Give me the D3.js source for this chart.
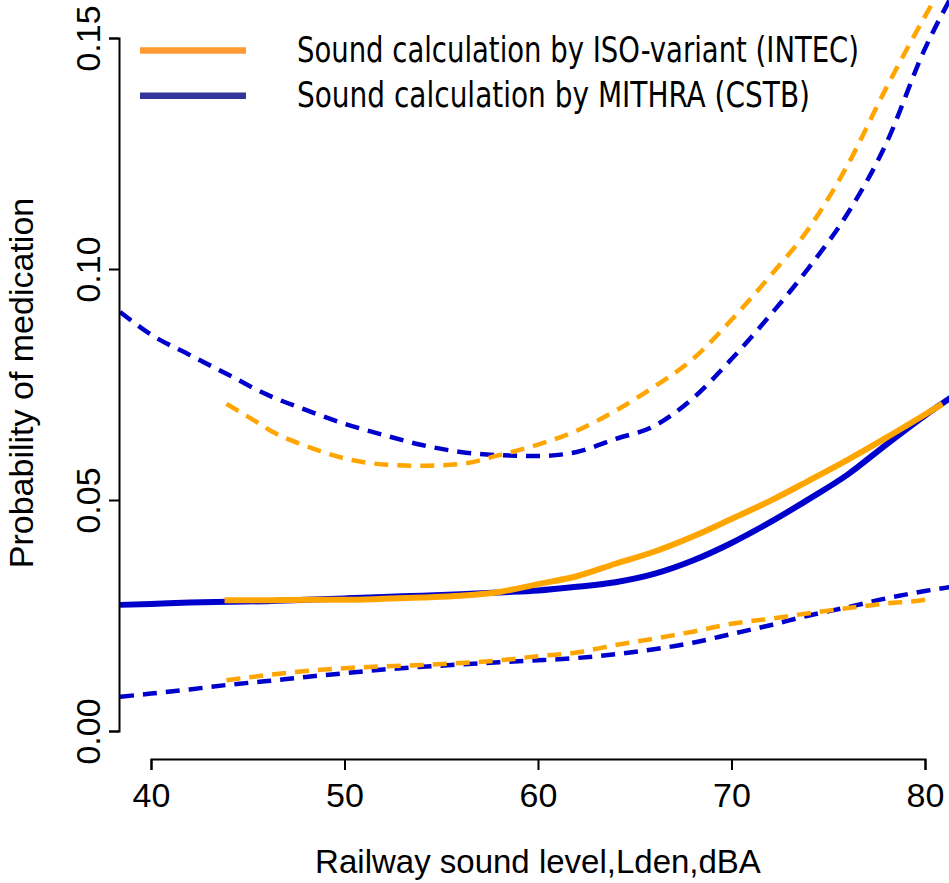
<!DOCTYPE html>
<html>
<head>
<meta charset="utf-8">
<script src="https://cdn.jsdelivr.net/npm/d3@7"></script>
<style>
  body { margin: 0; background: #fff; }
  svg { display: block; }
  text { font-family: "Liberation Sans", Arial, sans-serif; fill: #000; }
</style>
</head>
<body>
<svg id="chart" width="949" height="883"></svg>
<script>
// ISO-variant (INTEC) fit and 95% band
const isoX     = [43.8, 46, 48, 50, 52, 54, 56, 58, 60, 62, 64, 66, 68, 70, 72, 74, 76, 78, 80, 80.9];
const isoFit   = [0.0283, 0.0283, 0.0284, 0.0284, 0.0286, 0.0289, 0.0293, 0.0301, 0.0318, 0.0335, 0.0362, 0.0388, 0.0421, 0.0459, 0.0498, 0.0542, 0.0587, 0.0635, 0.0685, 0.0708];
const isoUpX   = [43.9, 45.3, 46.3, 48, 50, 52, 54, 56, 58, 60, 62, 64, 66, 68, 70, 72, 74, 76, 78, 80, 81];
const isoUp    = [0.0708, 0.0673, 0.0647, 0.0617, 0.0590, 0.0577, 0.0574, 0.0578, 0.0597, 0.0620, 0.0650, 0.0693, 0.0745, 0.0805, 0.0890, 0.0985, 0.1088, 0.1225, 0.1392, 0.1547, 0.1620];
const isoLoX   = [43.9, 46, 48, 50, 52, 54, 56, 58, 60, 62, 64, 66, 68, 70, 72, 74, 76, 78, 80, 80.4];
const isoLo    = [0.0110, 0.0121, 0.0130, 0.0136, 0.0140, 0.0143, 0.0147, 0.0153, 0.0162, 0.0170, 0.0186, 0.0200, 0.0215, 0.0232, 0.0243, 0.0255, 0.0266, 0.0276, 0.0284, 0.0287];

// MITHRA (CSTB) fit and 95% band
const mitX     = [38.4, 40, 42, 44, 46, 48, 50, 52, 54, 56, 58, 60, 62, 64, 66, 68, 70, 72, 74, 76, 78, 80, 81.5];
const mitFit   = [0.0273, 0.0275, 0.0278, 0.0280, 0.0281, 0.0284, 0.0287, 0.0290, 0.0293, 0.0296, 0.0300, 0.0304, 0.0312, 0.0322, 0.0340, 0.0369, 0.0407, 0.0452, 0.0502, 0.0555, 0.0620, 0.0683, 0.0726];
const mitUp    = [0.0907, 0.0858, 0.0814, 0.0771, 0.0728, 0.0695, 0.0665, 0.0641, 0.0619, 0.0604, 0.0597, 0.0595, 0.0604, 0.0632, 0.0660, 0.0720, 0.0805, 0.0900, 0.1003, 0.1120, 0.1272, 0.1477, 0.1600];
const mitLo    = [0.0074, 0.0081, 0.0090, 0.0100, 0.0108, 0.0117, 0.0125, 0.0133, 0.0139, 0.0144, 0.0149, 0.0153, 0.0158, 0.0166, 0.0177, 0.0191, 0.0210, 0.0229, 0.0250, 0.0268, 0.0287, 0.0303, 0.0313];

const xTicks = [40, 50, 60, 70, 80];
const yTicks = [0, 0.05, 0.10, 0.15];
const legendLabels = ["Sound calculation by ISO-variant (INTEC)", "Sound calculation by MITHRA (CSTB)"];

const svg = d3.select("#chart");

const x = d3.scaleLinear().domain([40, 80]).range([151, 925]);
const y = d3.scaleLinear().domain([0, 0.15]).range([731, 38]);

const ORANGE = "#FFA500";
const BLUE = "#0000CD";

function zip(xs, ys) { return xs.map((v, i) => [v, ys[i]]); }

const line = d3.line()
    .x(d => x(d[0]))
    .y(d => y(d[1]))
    .curve(d3.curveMonotoneX);

const series = [
    { data: zip(mitUp.map((_, i) => mitX[i]), mitUp), color: BLUE, dash: "14,9", w: 4.5 },
    { data: zip(mitX, mitLo), color: BLUE, dash: "14,9", w: 4.5 },
    { data: zip(isoUpX, isoUp), color: ORANGE, dash: "14,9", w: 4.5 },
    { data: zip(isoLoX, isoLo), color: ORANGE, dash: "14,9", w: 4.5 },
    { data: zip(mitX, mitFit), color: BLUE, dash: null, w: 6 },
    { data: zip(isoX, isoFit), color: ORANGE, dash: null, w: 6 }
];

svg.append("g").selectAll("path")
    .data(series)
    .join("path")
    .attr("d", d => line(d.data))
    .attr("fill", "none")
    .attr("stroke", d => d.color)
    .attr("stroke-width", d => d.w)
    .attr("stroke-dasharray", d => d.dash)
    .attr("stroke-linejoin", "round");

// y axis (R style: line spans first to last tick)
const yAxis = svg.append("g")
    .attr("transform", "translate(119,0)")
    .call(d3.axisLeft(y).tickValues(yTicks).tickSizeOuter(0).tickSize(10).tickFormat(d3.format(".2f")));
yAxis.select(".domain").attr("stroke-width", 2);
yAxis.selectAll(".tick line").attr("stroke-width", 2);
yAxis.selectAll(".tick text")
    .attr("x", null).attr("dy", null)
    .attr("transform", "translate(-19,0) rotate(-90)")
    .attr("text-anchor", "middle")
    .style("font-size", "34px")
    .style("font-family", "\"Liberation Sans\", Arial, sans-serif");

// x axis
const xAxis = svg.append("g")
    .attr("transform", "translate(0,759)")
    .call(d3.axisBottom(x).tickValues(xTicks).tickSizeOuter(0).tickSize(11));
xAxis.select(".domain").attr("stroke-width", 2);
xAxis.selectAll(".tick line").attr("stroke-width", 2);
xAxis.selectAll(".tick text")
    .attr("y", 48).attr("dy", null)
    .style("font-size", "34px")
    .style("font-family", "\"Liberation Sans\", Arial, sans-serif");

// axis titles
svg.append("text")
    .attr("x", 538).attr("y", 873)
    .attr("text-anchor", "middle")
    .style("font-size", "33px")
    .text("Railway sound level,Lden,dBA");

svg.append("text")
    .attr("transform", "translate(33,383) rotate(-90)")
    .attr("text-anchor", "middle")
    .style("font-size", "34px")
    .text("Probability of medication");

// legend
const legendColors = ["#FF9A33", "#333399"];
const legendY = [50.5, 95.7];
const leg = svg.append("g");
leg.selectAll("line")
    .data(legendLabels)
    .join("line")
    .attr("x1", 140).attr("x2", 246)
    .attr("y1", (d, i) => legendY[i]).attr("y2", (d, i) => legendY[i])
    .attr("stroke", (d, i) => legendColors[i])
    .attr("stroke-width", 6.5);
leg.selectAll("text")
    .data(legendLabels)
    .join("text")
    .attr("x", 297)
    .attr("y", (d, i) => legendY[i] + 11)
    .attr("textLength", (d, i) => i === 0 ? 562 : 513)
    .attr("lengthAdjust", "spacingAndGlyphs")
    .style("font-family", "\"Liberation Sans Narrow\", \"Arial Narrow\", \"DejaVu Sans Condensed\", sans-serif")
    .style("font-size", "36px")
    .text(d => d);
</script>
</body>
</html>
